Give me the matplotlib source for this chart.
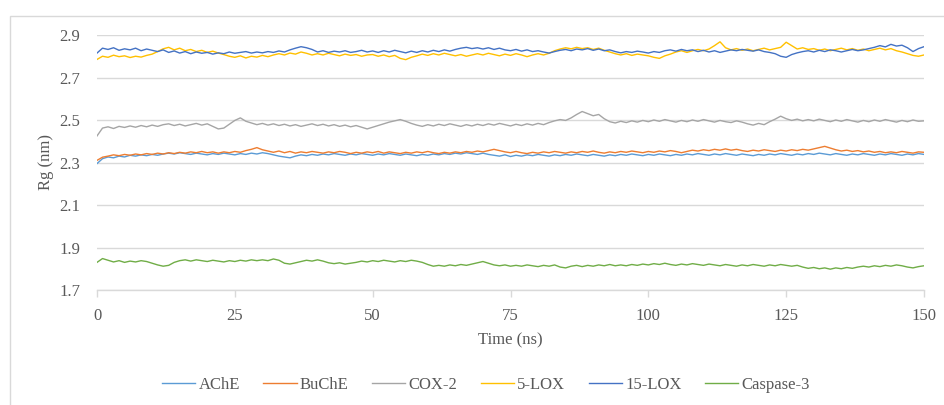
import numpy as np
import matplotlib
matplotlib.use("Agg")
import matplotlib.pyplot as plt
from matplotlib.patches import Rectangle

plt.rcParams['font.family'] = ['Liberation Serif', 'DejaVu Serif']

# Radius of gyration over the 150 ns runs, sampled every 1 ns
time_ns = np.arange(0, 151, 1)

ache = [
    2.295, 2.318, 2.326, 2.322, 2.330, 2.326, 2.334, 2.330, 2.336, 2.332,
    2.338, 2.334, 2.340, 2.344, 2.340, 2.346, 2.342, 2.338, 2.344, 2.340,
    2.336, 2.342, 2.338, 2.344, 2.340, 2.336, 2.342, 2.338, 2.344, 2.340,
    2.346, 2.342, 2.336, 2.330, 2.326, 2.322, 2.330, 2.336, 2.332, 2.338,
    2.334, 2.340, 2.336, 2.342, 2.338, 2.334, 2.340, 2.336, 2.342, 2.338,
    2.334, 2.340, 2.336, 2.342, 2.338, 2.334, 2.340, 2.336, 2.332, 2.338,
    2.334, 2.340, 2.336, 2.342, 2.338, 2.344, 2.340, 2.346, 2.342, 2.338,
    2.344, 2.338, 2.334, 2.330, 2.336, 2.328, 2.334, 2.330, 2.336, 2.332,
    2.338, 2.334, 2.330, 2.336, 2.332, 2.338, 2.334, 2.340, 2.336, 2.332,
    2.338, 2.334, 2.330, 2.336, 2.332, 2.338, 2.334, 2.340, 2.336, 2.332,
    2.338, 2.334, 2.340, 2.336, 2.332, 2.338, 2.334, 2.340, 2.336, 2.342,
    2.338, 2.334, 2.340, 2.336, 2.342, 2.338, 2.334, 2.340, 2.336, 2.332,
    2.338, 2.334, 2.340, 2.336, 2.342, 2.338, 2.334, 2.340, 2.336, 2.342,
    2.338, 2.344, 2.340, 2.336, 2.342, 2.338, 2.334, 2.340, 2.336, 2.342,
    2.338, 2.334, 2.340, 2.336, 2.342, 2.338, 2.334, 2.340, 2.336, 2.342,
    2.338,
]

buche = [
    2.310, 2.325, 2.330, 2.336, 2.332, 2.338, 2.334, 2.340, 2.336, 2.342,
    2.338, 2.344, 2.340, 2.346, 2.342, 2.348, 2.344, 2.350, 2.346, 2.352,
    2.346, 2.350, 2.344, 2.350, 2.346, 2.352, 2.348, 2.356, 2.362, 2.370,
    2.360, 2.354, 2.348, 2.354, 2.346, 2.352, 2.344, 2.350, 2.346, 2.352,
    2.348, 2.344, 2.350, 2.346, 2.352, 2.348, 2.342, 2.348, 2.344, 2.350,
    2.346, 2.352, 2.344, 2.350, 2.346, 2.342, 2.348, 2.344, 2.350, 2.346,
    2.352, 2.346, 2.342, 2.348, 2.344, 2.350, 2.346, 2.352, 2.348, 2.354,
    2.350, 2.356, 2.362, 2.356, 2.350, 2.346, 2.352, 2.346, 2.342, 2.348,
    2.344, 2.350, 2.346, 2.352, 2.348, 2.344, 2.350, 2.346, 2.352, 2.348,
    2.354, 2.348, 2.344, 2.350, 2.346, 2.352, 2.348, 2.354, 2.350, 2.346,
    2.352, 2.348, 2.354, 2.350, 2.356, 2.352, 2.346, 2.352, 2.358, 2.354,
    2.360, 2.356, 2.362, 2.358, 2.364, 2.358, 2.362, 2.356, 2.352, 2.358,
    2.354, 2.360, 2.356, 2.352, 2.358, 2.354, 2.360, 2.356, 2.362, 2.358,
    2.364, 2.370, 2.376, 2.368, 2.360, 2.354, 2.358, 2.352, 2.356, 2.350,
    2.354, 2.348, 2.352, 2.346, 2.350, 2.346, 2.352, 2.348, 2.344, 2.350,
    2.348,
]

cox2 = [
    2.425, 2.462, 2.468, 2.460, 2.470, 2.465, 2.472, 2.466, 2.474, 2.468,
    2.476, 2.470, 2.478, 2.482, 2.474, 2.480, 2.472, 2.478, 2.484, 2.476,
    2.482, 2.470, 2.458, 2.462, 2.480, 2.498, 2.510, 2.494, 2.486, 2.478,
    2.484, 2.476, 2.482, 2.474, 2.480, 2.472, 2.478, 2.470, 2.476, 2.482,
    2.474, 2.480, 2.472, 2.478, 2.470, 2.476, 2.468, 2.474, 2.466, 2.458,
    2.466, 2.474, 2.482, 2.490, 2.496, 2.502, 2.494, 2.484, 2.476, 2.470,
    2.478, 2.472, 2.480, 2.474, 2.482, 2.476, 2.470, 2.478, 2.472, 2.480,
    2.474, 2.482, 2.476, 2.484, 2.478, 2.472, 2.480, 2.474, 2.482, 2.476,
    2.484, 2.478, 2.488, 2.496, 2.502, 2.498, 2.510, 2.526, 2.540, 2.530,
    2.520, 2.526, 2.506, 2.492, 2.486, 2.494, 2.488, 2.496, 2.490, 2.498,
    2.492, 2.500, 2.494, 2.502, 2.496, 2.490, 2.498, 2.492, 2.500, 2.494,
    2.502, 2.496, 2.490, 2.498, 2.492, 2.488, 2.496, 2.490, 2.482, 2.476,
    2.484, 2.478, 2.492, 2.504, 2.518, 2.506, 2.498, 2.504, 2.496, 2.502,
    2.496, 2.504, 2.498, 2.492, 2.500, 2.494, 2.502, 2.496, 2.490, 2.498,
    2.492, 2.500, 2.494, 2.502, 2.496, 2.490, 2.498, 2.492, 2.500, 2.494,
    2.496,
]

lox5 = [
    2.785, 2.800, 2.795, 2.805, 2.798, 2.802, 2.794, 2.800, 2.796, 2.804,
    2.810, 2.822, 2.835, 2.842, 2.830, 2.838, 2.826, 2.832, 2.822, 2.828,
    2.818, 2.824, 2.815, 2.808, 2.800, 2.795, 2.802, 2.792, 2.800, 2.796,
    2.804, 2.798, 2.806, 2.812, 2.806, 2.815, 2.810, 2.820, 2.814, 2.806,
    2.812, 2.806, 2.814, 2.808, 2.802, 2.810, 2.804, 2.808, 2.800, 2.806,
    2.808, 2.800, 2.806, 2.798, 2.804, 2.790, 2.784, 2.795, 2.802, 2.810,
    2.804, 2.812, 2.806, 2.814, 2.808, 2.802, 2.808, 2.800, 2.806, 2.812,
    2.806, 2.814, 2.808, 2.802, 2.810, 2.804, 2.812, 2.806, 2.798, 2.806,
    2.812, 2.806, 2.814, 2.826, 2.834, 2.840, 2.835, 2.842, 2.836, 2.840,
    2.832, 2.838, 2.828, 2.820, 2.812, 2.806, 2.812, 2.804, 2.810, 2.806,
    2.802, 2.795, 2.790, 2.802, 2.810, 2.820, 2.826, 2.818, 2.826, 2.832,
    2.826, 2.834, 2.850, 2.868, 2.840, 2.830, 2.836, 2.828, 2.834, 2.826,
    2.832, 2.838, 2.830, 2.836, 2.842, 2.866, 2.850, 2.834, 2.840, 2.832,
    2.836, 2.828, 2.834, 2.826, 2.832, 2.838, 2.830, 2.836, 2.828, 2.834,
    2.826, 2.832, 2.838, 2.830, 2.836, 2.826, 2.820, 2.812, 2.804, 2.800,
    2.806,
]

lox15 = [
    2.815, 2.838, 2.832, 2.840, 2.828, 2.835, 2.830, 2.838, 2.826, 2.834,
    2.828, 2.822, 2.830, 2.818, 2.825, 2.815, 2.822, 2.812, 2.820, 2.814,
    2.818, 2.810, 2.816, 2.812, 2.820, 2.814, 2.818, 2.822, 2.815, 2.820,
    2.816, 2.822, 2.818, 2.825, 2.820, 2.830, 2.838, 2.845, 2.840, 2.832,
    2.820, 2.826, 2.818, 2.824, 2.820, 2.826, 2.818, 2.822, 2.828, 2.820,
    2.825, 2.818, 2.826, 2.820, 2.828, 2.822, 2.816, 2.824, 2.818, 2.826,
    2.820, 2.828, 2.822, 2.830, 2.824, 2.832, 2.838, 2.842, 2.836, 2.840,
    2.834, 2.840, 2.832, 2.838, 2.830, 2.826, 2.832, 2.824, 2.830, 2.822,
    2.826, 2.820, 2.815, 2.822, 2.828, 2.832, 2.826, 2.834, 2.830, 2.836,
    2.828, 2.834, 2.826, 2.830, 2.822, 2.816, 2.822, 2.818, 2.824, 2.820,
    2.815, 2.822, 2.818, 2.826, 2.830, 2.824, 2.832, 2.826, 2.830, 2.822,
    2.828, 2.820, 2.826, 2.818, 2.824, 2.830, 2.826, 2.832, 2.828, 2.824,
    2.830, 2.822, 2.818, 2.812, 2.800, 2.795, 2.808, 2.816, 2.822, 2.826,
    2.820, 2.828, 2.822, 2.830, 2.826, 2.820, 2.826, 2.832, 2.826, 2.830,
    2.836, 2.842, 2.850, 2.844, 2.856, 2.848, 2.852, 2.840, 2.822, 2.836,
    2.845,
]

caspase3 = [
    1.830, 1.848, 1.840, 1.832, 1.838, 1.830, 1.836, 1.832, 1.838, 1.834,
    1.826, 1.818, 1.812, 1.816, 1.830, 1.838, 1.842, 1.836, 1.842, 1.838,
    1.834, 1.840, 1.836, 1.832, 1.838, 1.834, 1.840, 1.836, 1.842, 1.838,
    1.842, 1.838, 1.846, 1.840, 1.826, 1.822, 1.828, 1.834, 1.840, 1.836,
    1.842, 1.836, 1.828, 1.824, 1.828, 1.822, 1.826, 1.830, 1.836, 1.832,
    1.838, 1.834, 1.840, 1.836, 1.832, 1.838, 1.834, 1.840, 1.836, 1.830,
    1.820, 1.812, 1.816, 1.812, 1.818, 1.814, 1.820, 1.816, 1.822, 1.828,
    1.834, 1.826, 1.818, 1.814, 1.818, 1.812, 1.816, 1.812, 1.818, 1.814,
    1.810, 1.816, 1.812, 1.818, 1.808, 1.804, 1.812, 1.816, 1.810, 1.816,
    1.812, 1.818, 1.814, 1.820, 1.814, 1.818, 1.814, 1.820, 1.816, 1.822,
    1.818, 1.824, 1.820, 1.826, 1.820, 1.816, 1.822, 1.818, 1.824, 1.820,
    1.816, 1.822, 1.818, 1.814, 1.820, 1.816, 1.812, 1.818, 1.814, 1.820,
    1.816, 1.812, 1.818, 1.814, 1.820, 1.816, 1.812, 1.816, 1.808, 1.802,
    1.806, 1.800, 1.804, 1.798, 1.804, 1.800, 1.806, 1.802, 1.808, 1.812,
    1.808, 1.814, 1.810, 1.816, 1.812, 1.818, 1.814, 1.808, 1.804, 1.810,
    1.814,
]

labels = ["AChE", "BuChE", "COX-2", "5-LOX", "15-LOX", "Caspase-3"]
colors = ["#5B9BD5", "#ED7D31", "#A5A5A5", "#FFC000", "#4472C4", "#70AD47"]
series = [ache, buche, cox2, lox5, lox15, caspase3]

x_ticks = [0, 25, 50, 75, 100, 125, 150]
y_ticks = [1.7, 1.9, 2.1, 2.3, 2.5, 2.7, 2.9]

text_color = "#595959"
grid_color = "#D9D9D9"

fig = plt.figure(figsize=(9.44, 4.05), dpi=100)
ax = fig.add_axes([97 / 944, 1 - 290 / 405, 827 / 944, 255 / 405])

# chart frame
fig.patches.append(Rectangle((10 / 944, -0.1), 1.2, 1 - 16 / 405 + 0.1,
                             transform=fig.transFigure, fill=False,
                             edgecolor=grid_color, linewidth=1.0))

# draw in the same order the legend lists them
for y, c, lab in zip(series, colors, labels):
    ax.plot(time_ns, y, color=c, linewidth=1.0, label=lab)

ax.set_xlim(0, 150)
ax.set_ylim(1.7, 2.9)
ax.set_xticks(x_ticks)
ax.set_yticks(y_ticks)
ax.set_yticklabels([f"{v:.1f}" for v in y_ticks])

ax.grid(axis="y", color=grid_color, linewidth=1.0)
ax.set_axisbelow(True)
for side in ["top", "right", "left"]:
    ax.spines[side].set_visible(False)
ax.spines["bottom"].set_color(grid_color)
ax.spines["bottom"].set_linewidth(1.0)

ax.tick_params(axis="y", length=0, pad=12, labelsize=12, labelcolor=text_color)
ax.tick_params(axis="x", length=5, width=1.0, color=grid_color, pad=8,
               labelsize=12, labelcolor=text_color)

ax.set_xlabel("Time (ns)", fontsize=12, color=text_color, labelpad=6)
ax.set_ylabel("Rg (nm)", fontsize=12, color=text_color, labelpad=4)

fig.legend(loc="center", bbox_to_anchor=(486 / 944, 1 - 385 / 405), ncol=6,
           frameon=False, fontsize=12, handlelength=2.0, handletextpad=0.2,
           columnspacing=1.4, labelcolor=text_color)

fig.savefig("out.png", dpi=100)
